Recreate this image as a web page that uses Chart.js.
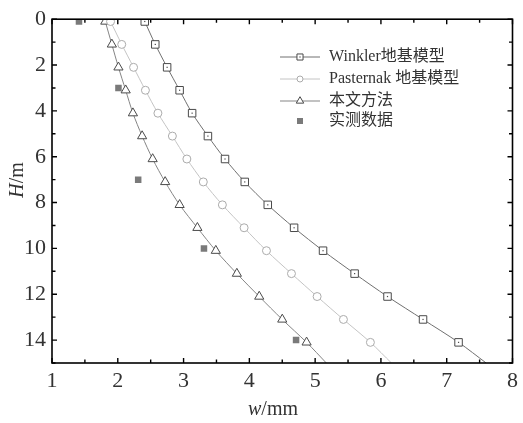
<!DOCTYPE html>
<html lang="zh">
<head>
<meta charset="UTF-8">
<title>桩身水平位移</title>
<script src="https://cdn.jsdelivr.net/npm/chart.js@4.4.0/dist/chart.umd.min.js"></script>
<style>
  html, body { margin: 0; padding: 0; background: #fff; }
</style>
</head>
<body>
<canvas id="chart" width="523" height="423"></canvas>
<script>
// depths (m) of the computed points
const modelDepth = [0.1, 1.1, 2.1, 3.1, 4.1, 5.1, 6.1, 7.1, 8.1, 9.1, 10.1, 11.1, 12.1, 13.1, 14.1];
const winkler   = [2.41, 2.57, 2.75, 2.94, 3.13, 3.37, 3.63, 3.93, 4.28, 4.68, 5.12, 5.60, 6.10, 6.64, 7.18];
const pasternak = [1.89, 2.06, 2.24, 2.42, 2.61, 2.83, 3.05, 3.30, 3.59, 3.92, 4.26, 4.64, 5.03, 5.43, 5.84];
const proposed  = [1.81, 1.91, 2.01, 2.12, 2.23, 2.37, 2.53, 2.72, 2.94, 3.21, 3.49, 3.81, 4.15, 4.50, 4.87];

// field data
const measuredDepth = [0.1, 3, 7, 10, 14];
const measured      = [1.41, 2.01, 2.31, 3.31, 4.71];

// where each curve meets the bottom of the plot
const bottomDepth = 15;
const winklerBottom = 7.60;
const pasternakBottom = 6.16;
const proposedBottom = 5.17;

const labels = ['Winkler地基模型', 'Pasternak 地基模型', '本文方法', '实测数据'];

const serif = '"Liberation Serif", "Times New Roman", "Noto Sans CJK SC", serif';
Chart.defaults.font.family = serif;
Chart.defaults.color = '#333';

function curve(values, bottom) {
    return values.map((v, i) => ({ x: v, y: modelDepth[i] })).concat([{ x: bottom, y: bottomDepth }]);
}
const hideLast = ctx => ctx.dataIndex < modelDepth.length ? undefined : 0;

const styles = [
    { line: '#707070', point: '#4a4a4a', shape: 'rect', r: 5.3 },
    { line: '#c4c4c4', point: '#ababab', shape: 'circle', r: 4 },
    { line: '#858585', point: '#4a4a4a', shape: 'triangle', r: 5.3 }
];

const datasets = [winkler, pasternak, proposed].map((vals, k) => ({
    label: labels[k],
    data: curve(vals, [winklerBottom, pasternakBottom, proposedBottom][k]),
    showLine: true,
    tension: 0.3,
    borderColor: styles[k].line,
    borderWidth: 1,
    pointStyle: styles[k].shape,
    pointRadius: ctx => hideLast(ctx) ?? styles[k].r,
    pointBackgroundColor: '#fff',
    pointBorderColor: styles[k].point,
    pointBorderWidth: 1
}));
datasets.push({
    label: labels[3],
    data: measured.map((v, i) => ({ x: v, y: measuredDepth[i] })),
    showLine: false,
    pointStyle: 'rect',
    pointRadius: 4.6,
    pointBackgroundColor: '#7a7a7a',
    pointBorderWidth: 0
});

// frame, inward ticks, center dots, legend, axis titles
const decor = {
    id: 'decor',
    afterDatasetsDraw(chart) {
        const ctx = chart.ctx;
        ctx.save();
        ctx.fillStyle = '#4a4a4a';
        chart.getDatasetMeta(0).data.forEach((p, i) => {
            if (i < modelDepth.length) ctx.fillRect(p.x - 0.6, p.y - 0.6, 1.2, 1.2);
        });
        ctx.restore();
    },
    afterDraw(chart) {
        const ctx = chart.ctx;
        const a = chart.chartArea;
        const xs = chart.scales.x, ys = chart.scales.y;
        ctx.save();
        ctx.strokeStyle = '#000';
        ctx.lineWidth = 1.6;
        ctx.strokeRect(a.left, a.top, a.right - a.left, a.bottom - a.top);

        ctx.lineWidth = 1.4;
        ctx.beginPath();
        xs.ticks.forEach(t => {
            const px = xs.getPixelForValue(t.value);
            const len = Number.isInteger(t.value) ? 5 : 3.5;
            ctx.moveTo(px, a.bottom); ctx.lineTo(px, a.bottom - len);
            ctx.moveTo(px, a.top); ctx.lineTo(px, a.top + len);
        });
        ys.ticks.forEach(t => {
            const py = ys.getPixelForValue(t.value);
            const len = t.value % 2 === 0 ? 5 : 3.5;
            ctx.moveTo(a.left, py); ctx.lineTo(a.left + len, py);
            ctx.moveTo(a.right, py); ctx.lineTo(a.right - len, py);
        });
        ctx.stroke();

        // legend
        const rows = [57, 79, 101, 121];
        ctx.font = '16px ' + serif;
        ctx.textBaseline = 'middle';
        ctx.textAlign = 'left';
        rows.forEach((y, k) => {
            if (k < 3) {
                const s = styles[k];
                ctx.strokeStyle = s.line;
                ctx.lineWidth = 1;
                ctx.beginPath(); ctx.moveTo(280, y); ctx.lineTo(320, y); ctx.stroke();
                ctx.fillStyle = '#fff';
                ctx.strokeStyle = s.point;
                Chart.helpers.drawPoint(ctx, { pointStyle: s.shape, radius: s.r - 1, borderWidth: 1 }, 300, y);
                if (k === 0) { ctx.fillStyle = '#4a4a4a'; ctx.fillRect(299.4, y - 0.6, 1.2, 1.2); }
            } else {
                ctx.fillStyle = '#7a7a7a';
                ctx.fillRect(297, y - 3, 6, 6);
            }
            ctx.fillStyle = '#333';
            ctx.fillText(labels[k], 329, y);
        });

        // axis titles with italic symbols
        function mixed(parts, x, y) {
            let w = 0;
            parts.forEach(p => { ctx.font = p[1] + '20px ' + serif; w += ctx.measureText(p[0]).width; });
            let cx = x - w / 2;
            parts.forEach(p => {
                ctx.font = p[1] + '20px ' + serif;
                ctx.fillText(p[0], cx, y);
                cx += ctx.measureText(p[0]).width;
            });
        }
        ctx.fillStyle = '#333';
        ctx.textAlign = 'left';
        mixed([['w', 'italic '], ['/mm', '']], 273, 410);
        ctx.translate(18, 180);
        ctx.rotate(-Math.PI / 2);
        mixed([['H', 'italic '], ['/m', '']], 0, 0);
        ctx.restore();
    }
};

new Chart(document.getElementById('chart'), {
    type: 'scatter',
    data: { datasets },
    options: {
        responsive: false,
        animation: false,
        layout: { padding: { top: 18, right: 5, left: 0, bottom: 0 } },
        plugins: { legend: { display: false }, tooltip: { enabled: false } },
        scales: {
            x: {
                type: 'linear', min: 1, max: 8,
                grid: { drawOnChartArea: false, drawTicks: false },
                border: { display: false },
                ticks: {
                    stepSize: 0.5, padding: 5, autoSkip: false, maxRotation: 0,
                    font: { size: 22 },
                    callback: v => Number.isInteger(v) ? v : ''
                },
                afterFit: s => { s.height = 60; }
            },
            y: {
                type: 'linear', min: 0, max: 15, reverse: true,
                grid: { drawOnChartArea: false, drawTicks: false },
                border: { display: false },
                ticks: {
                    stepSize: 1, padding: 6, autoSkip: false,
                    font: { size: 22 },
                    callback: v => v % 2 === 0 ? v : ''
                },
                afterFit: s => { s.width = 52; }
            }
        }
    },
    plugins: [decor]
});
</script>
</body>
</html>
